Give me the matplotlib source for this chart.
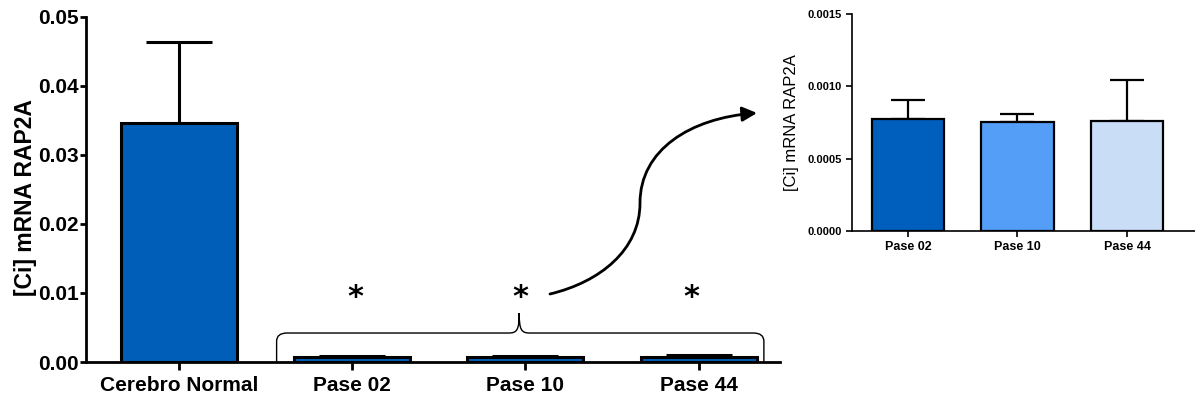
import numpy as np
import matplotlib.pyplot as plt
from matplotlib.path import Path
from matplotlib.patches import PathPatch, FancyArrowPatch

plt.rcParams['font.family'] = ['Liberation Sans', 'DejaVu Sans']

# main chart data
main_labels = ['Cerebro Normal', 'Pase 02', 'Pase 10', 'Pase 44']
main_means = [0.0346, 0.000773, 0.000752, 0.000762]
main_err = [0.0118, 0.000132, 0.000060, 0.000281]
main_colors = ['#005EB8', '#005EB8', '#005EB8', '#005EB8']

# inset data
ins_labels = ['Pase 02', 'Pase 10', 'Pase 44']
ins_means = [0.000773, 0.000752, 0.000762]
ins_err = [0.000132, 0.000060, 0.000281]
ins_colors = ['#005EBD', '#549EF7', '#C9DDF7']

fig = plt.figure(figsize=(11.95, 4.01), dpi=100)

# ---- main axes
ax = fig.add_axes([86/1195, 39/401, 694/1195, 345/401])
x = np.arange(len(main_labels))
ax.bar(x, main_means, width=0.67, color=main_colors,
       edgecolor='black', linewidth=2.2, zorder=2)
ax.errorbar(x, main_means, yerr=[np.zeros(len(x)), main_err], fmt='none',
            ecolor='black', elinewidth=2.2, capsize=24, capthick=2.2, zorder=1)
ax.set_xlim(-0.535, 3.47)
ax.set_ylim(0, 0.05)
ax.set_yticks([0, 0.01, 0.02, 0.03, 0.04, 0.05])
ax.set_yticklabels(['0.00', '0.01', '0.02', '0.03', '0.04', '0.05'])
ax.set_xticks(x)
ax.set_xticklabels(main_labels)
for lab in ax.get_xticklabels() + ax.get_yticklabels():
    lab.set_fontweight('bold')
    lab.set_fontsize(15)
ax.set_ylabel('[Ci] mRNA RAP2A', fontsize=16.5, fontweight='bold')
ax.yaxis.set_label_coords(-0.071, 0.478)
ax.spines['top'].set_visible(False)
ax.spines['right'].set_visible(False)
ax.spines['left'].set_linewidth(2)
ax.spines['bottom'].set_linewidth(2)
ax.tick_params(width=2, length=4)
ax.tick_params(axis='y', pad=1)
ax.tick_params(axis='x', pad=4, length=6)

# asterisks
for xi, dx in zip([1, 2, 3], [0.02, -0.03, -0.04]):
    ax.text(xi + dx, 0.0094, '*', ha='center', va='center',
            fontsize=22, fontweight='bold', family='DejaVu Sans')

# brace over the three passages
xl, xr, xm = 0.565, 3.377, 1.965
yb, yh, yt = 0.0, 0.0042, 0.0071
r = 0.06
dy = 0.0012
verts = [(xl, yb), (xl, yh - dy), (xl, yh), (xl + r, yh),
         (xm - r, yh), (xm - r * 0.2, yh), (xm, yh + dy * 0.4), (xm, yt),
         (xm, yh + dy * 0.4), (xm + r * 0.2, yh), (xm + r, yh),
         (xr - r, yh), (xr, yh), (xr, yh - dy), (xr, yb)]
codes = [Path.MOVETO, Path.LINETO, Path.CURVE3, Path.CURVE3,
         Path.LINETO, Path.CURVE4, Path.CURVE4, Path.CURVE4,
         Path.CURVE4, Path.CURVE4, Path.CURVE4,
         Path.LINETO, Path.CURVE3, Path.CURVE3, Path.LINETO]
ax.add_patch(PathPatch(Path(verts, codes), facecolor='none', edgecolor='black',
                       linewidth=1.0, clip_on=False))

# ---- inset axes
ax2 = fig.add_axes([852/1195, 170/401, 343/1195, 217/401])
x2 = np.arange(len(ins_labels))
ax2.bar(x2, ins_means, width=0.66, color=ins_colors, edgecolor='black',
        linewidth=1.6, zorder=2)
ax2.errorbar(x2, ins_means, yerr=[np.zeros(len(x2)), ins_err], fmt='none',
             ecolor='black', elinewidth=1.6, capsize=12, capthick=1.6, zorder=1)
ax2.set_xlim(-0.51, 2.62)
ax2.set_ylim(0, 0.0015)
ax2.set_yticks([0, 0.0005, 0.0010, 0.0015])
ax2.set_yticklabels(['0.0000', '0.0005', '0.0010', '0.0015'])
ax2.set_xticks(x2)
ax2.set_xticklabels(ins_labels)
for lab in ax2.get_yticklabels():
    lab.set_fontweight('bold')
    lab.set_fontsize(8)
for lab in ax2.get_xticklabels():
    lab.set_fontweight('bold')
    lab.set_fontsize(9)
ax2.set_ylabel('[Ci] mRNA RAP2A', fontsize=12, labelpad=6)
ax2.spines['top'].set_visible(False)
ax2.spines['right'].set_visible(False)
ax2.spines['left'].set_linewidth(1.2)
ax2.spines['bottom'].set_linewidth(1.2)
ax2.tick_params(width=1.2, length=4)

# ---- S-shaped arrow from the middle asterisk to the inset
W, H = 1195, 401
pts = [(550, 294), (600, 282), (640, 250), (640, 203),
       (640, 150), (690, 118), (757, 113)]
pts = [(px / W, 1 - py / H) for px, py in pts]
apath = Path(pts, [Path.MOVETO] + [Path.CURVE4] * 6)
arrow = FancyArrowPatch(path=apath, arrowstyle='-|>', mutation_scale=22,
                        color='black', linewidth=2, transform=fig.transFigure)
fig.patches.append(arrow)

fig.savefig('out.png', dpi=100, facecolor='white')
